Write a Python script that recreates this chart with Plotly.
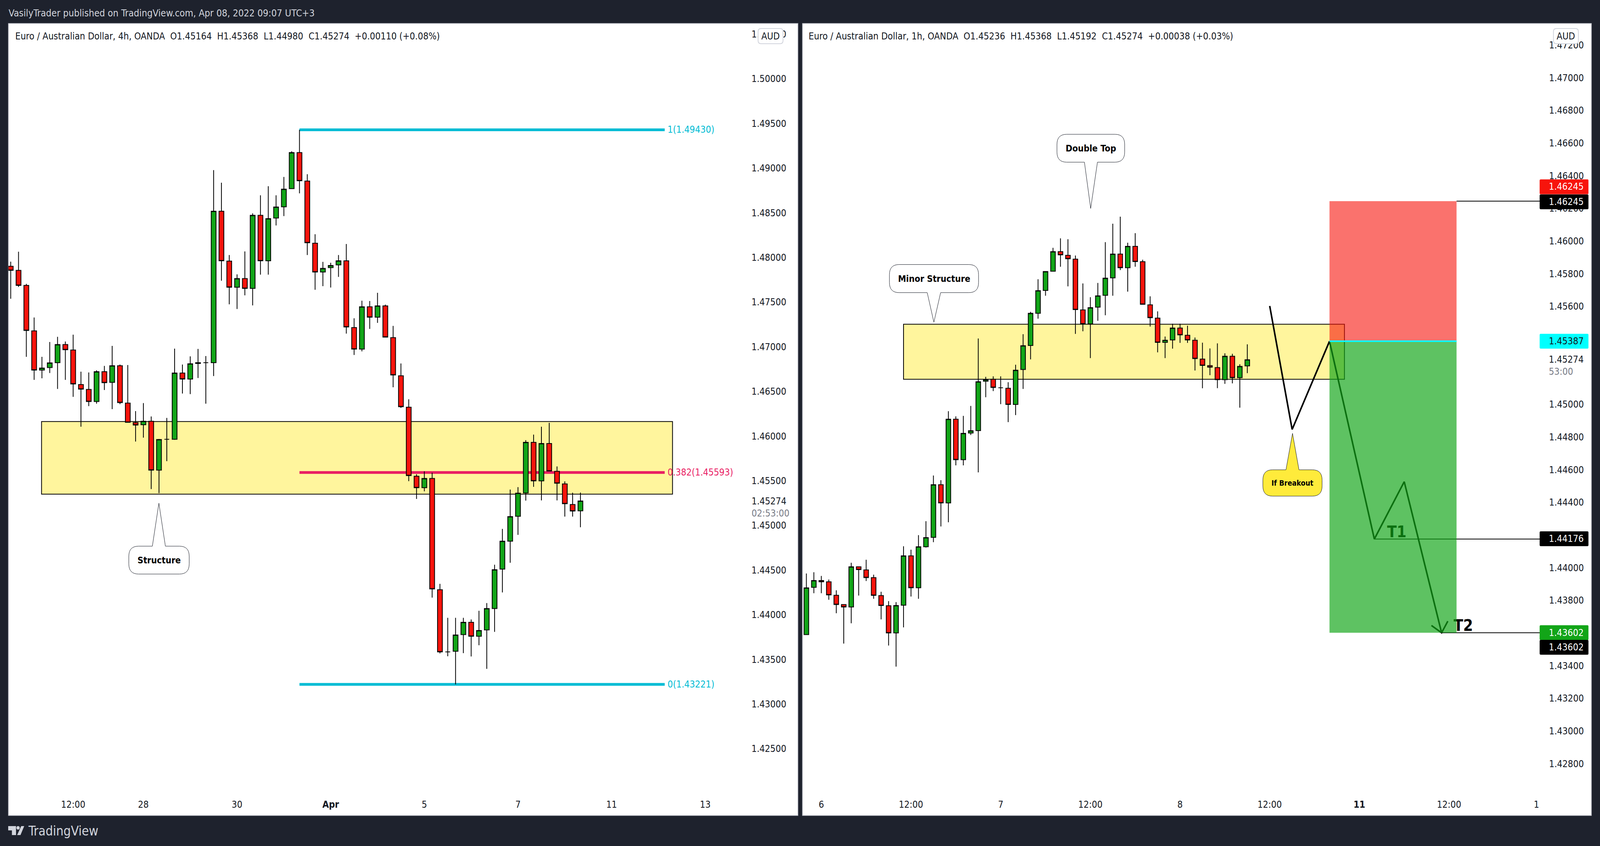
import plotly.graph_objects as go

# ---------- 4h pane ----------
l_open = [1.47902,1.47856,1.47688,1.47179,1.46740,1.46768,1.46823,1.47026,1.46965,1.46578,1.46523,1.46388,1.46722,1.46602,1.46789,1.46370,1.46152,1.46127,1.46167,1.45619,1.45965,1.45965,1.46707,1.46639,1.46823,1.46822,1.46823,1.48519,1.47960,1.47667,1.47765,1.47654,1.48473,1.47963,1.48442,1.48568,1.48771,1.49175,1.48856,1.48160,1.47838,1.47887,1.47917,1.47963,1.47216,1.46974,1.47449,1.47332,1.47458,1.47103,1.46676,1.46324,1.45552,1.45423,1.45527,1.44281,1.43585,1.43591,1.43778,1.43916,1.43760,1.43831,1.44070,1.44511,1.44824,1.45103,1.45364,1.45931,1.45499,1.45918,1.45606,1.45465,1.45235,1.45164]
l_close = [1.47856,1.47688,1.47183,1.46740,1.46762,1.46820,1.47026,1.46968,1.46584,1.46526,1.46388,1.46722,1.46599,1.46789,1.46376,1.46155,1.46124,1.46167,1.45619,1.45962,1.45965,1.46707,1.46639,1.46811,1.46814,1.46822,1.48519,1.47963,1.47667,1.47765,1.47654,1.48473,1.47963,1.48436,1.48565,1.48765,1.49175,1.48859,1.48166,1.47838,1.47878,1.47911,1.47963,1.47222,1.46974,1.47449,1.47332,1.47458,1.47109,1.46685,1.46330,1.45558,1.45423,1.45527,1.44290,1.43585,1.43585,1.43774,1.43916,1.43760,1.43824,1.44070,1.44505,1.44824,1.45099,1.45361,1.45931,1.45499,1.45918,1.45610,1.45473,1.45244,1.45162,1.45274]
l_high = [1.47954,1.48065,1.47706,1.47329,1.46888,1.47054,1.47112,1.47060,1.47136,1.46722,1.46713,1.46737,1.46786,1.47010,1.46802,1.46796,1.46281,1.46370,1.46220,1.45968,1.46204,1.46980,1.46802,1.46894,1.46977,1.46897,1.48979,1.48838,1.48028,1.47811,1.48068,1.48494,1.48697,1.48798,1.48697,1.48902,1.49190,1.49430,1.48933,1.48261,1.47951,1.47942,1.48028,1.48151,1.47320,1.47516,1.47513,1.47605,1.47473,1.47234,1.46814,1.46413,1.45573,1.45606,1.45591,1.44346,1.43966,1.43966,1.43966,1.43947,1.44045,1.44131,1.44560,1.44962,1.45402,1.45429,1.45955,1.46017,1.46106,1.46149,1.45661,1.45494,1.45367,1.45368]
l_low = [1.47538,1.47670,1.46888,1.46630,1.46648,1.46707,1.46529,1.46630,1.46440,1.46106,1.46336,1.46364,1.46517,1.46302,1.46358,1.46152,1.45940,1.45983,1.45407,1.45361,1.45720,1.45959,1.46477,1.46471,1.46651,1.46364,1.46673,1.47740,1.47476,1.47424,1.47577,1.47464,1.47808,1.47808,1.48359,1.48464,1.48771,1.48719,1.48028,1.47639,1.47679,1.47664,1.47783,1.47148,1.46909,1.46949,1.47201,1.47268,1.47109,1.46547,1.46315,1.45496,1.45297,1.45382,1.44192,1.43567,1.43536,1.43221,1.43570,1.43533,1.43659,1.43395,1.43809,1.44250,1.44582,1.44895,1.45278,1.45432,1.45281,1.45610,1.45281,1.45099,1.45099,1.44980]
l_bars = list(range(len(l_open)))
l_yticks = [1.425,1.43,1.435,1.44,1.445,1.45,1.455,1.46,1.465,1.47,1.475,1.48,1.485,1.49,1.495,1.5,1.505]
l_xticks = [8,17,29,41,53,65,77,89]
l_xlabels = ["12:00","28","30","<b>Apr</b>","5","7","11","13"]
l_zone = [3.95,84.8,1.45351,1.46164]
l_fib_span = [37,83.8]
l_fib_levels = [1.49430,1.45593,1.43221]
l_fib_colors = ["#00bcd4","#e91e63","#00bcd4"]
l_fib_names = ["1(1.49430)","0.382(1.45593)","0(1.43221)"]

# ---------- 1h pane ----------
r_open = [1.43591,1.43880,1.43922,1.43914,1.43832,1.43775,1.43760,1.44006,1.43987,1.43940,1.43830,1.43768,1.43601,1.43771,1.44073,1.43878,1.44129,1.44186,1.44509,1.44397,1.44910,1.44662,1.44825,1.44840,1.45142,1.45154,1.45102,1.45099,1.45000,1.45214,1.45361,1.45558,1.45698,1.45816,1.45936,1.45913,1.45890,1.45579,1.45493,1.45596,1.45668,1.45775,1.45921,1.45837,1.45968,1.45874,1.45610,1.45529,1.45380,1.45395,1.45468,1.45424,1.45393,1.45278,1.45238,1.45226,1.45152,1.45295,1.45164,1.45236]
r_close = [1.43877,1.43922,1.43914,1.43834,1.43775,1.43760,1.44006,1.43989,1.43940,1.43831,1.43769,1.43601,1.43769,1.44073,1.43878,1.44129,1.44185,1.44509,1.44397,1.44910,1.44662,1.44823,1.44839,1.45139,1.45152,1.45104,1.45102,1.45000,1.45210,1.45360,1.45558,1.45697,1.45814,1.45936,1.45916,1.45892,1.45581,1.45493,1.45593,1.45665,1.45773,1.45921,1.45837,1.45968,1.45875,1.45613,1.45531,1.45380,1.45393,1.45468,1.45426,1.45395,1.45281,1.45239,1.45228,1.45152,1.45295,1.45164,1.45233,1.45274]
r_high = [1.43965,1.43973,1.43950,1.43928,1.43862,1.43775,1.44031,1.44006,1.44049,1.43958,1.43853,1.43796,1.43790,1.44132,1.44111,1.44200,1.44285,1.44565,1.44536,1.44959,1.44927,1.44930,1.44991,1.45404,1.45169,1.45172,1.45172,1.45136,1.45243,1.45430,1.45567,1.45767,1.45814,1.45959,1.46017,1.46012,1.45912,1.45741,1.45657,1.45744,1.45994,1.46107,1.46150,1.45990,1.46049,1.45886,1.45662,1.45570,1.45416,1.45494,1.45494,1.45482,1.45410,1.45378,1.45343,1.45374,1.45313,1.45310,1.45246,1.45368]
r_low = [1.43591,1.43844,1.43844,1.43804,1.43722,1.43536,1.43660,1.43830,1.43919,1.43810,1.43684,1.43524,1.43395,1.43635,1.43824,1.43810,1.44124,1.44157,1.44253,1.44279,1.44627,1.44627,1.44813,1.44584,1.45044,1.45082,1.45002,1.44892,1.44935,1.45095,1.45276,1.45525,1.45666,1.45816,1.45843,1.45723,1.45432,1.45448,1.45284,1.45512,1.45546,1.45666,1.45823,1.45691,1.45843,1.45613,1.45477,1.45319,1.45284,1.45342,1.45377,1.45377,1.45208,1.45099,1.45179,1.45100,1.45126,1.45129,1.44980,1.45192]
r_bars = list(range(len(r_open)))
r_yticks = [1.428,1.43,1.432,1.434,1.436,1.438,1.44,1.442,1.444,1.446,1.448,1.45,1.452,1.454,1.456,1.458,1.46,1.462,1.464,1.466,1.468,1.47,1.472]
r_xticks = [2,14,26,38,50,62,74,86,97.7]
r_xlabels = ["6","12:00","7","12:00","8","12:00","<b>11</b>","12:00","1"]
r_zone = [13.0,72.0,1.45154,1.45491]
r_box_x = [70,87]
r_stop, r_entry, r_t1, r_t2 = 1.46245,1.45387,1.44176,1.43602
path_x = [62,65,70]
path_y = [1.45603,1.44847,1.45387]
down_x = [70,76,80,85]
down_y = [1.45387,1.44176,1.44527,1.43602]
head_x = [83.64,85,85.83]
head_y = [1.43647,1.43602,1.43673]

W,H = 4295,2167
FONT = "DejaVu Sans Condensed"
BG = "#1e222d"
GREEN,RED = "#12a518","#f7140c"
TXT = "#131722"
FS = 24

def px(x): return x/W
def py(y): return 1-y/H

shapes, notes = [], []

def rect(x0,y0,x1,y1,fill,line=None,lw=0,layer="above",r=0):
    if r:
        d = (f"M{px(x0+r)},{py(y0)} L{px(x1-r)},{py(y0)} Q{px(x1)},{py(y0)} {px(x1)},{py(y0+r)} "
             f"L{px(x1)},{py(y1-r)} Q{px(x1)},{py(y1)} {px(x1-r)},{py(y1)} L{px(x0+r)},{py(y1)} "
             f"Q{px(x0)},{py(y1)} {px(x0)},{py(y1-r)} L{px(x0)},{py(y0+r)} Q{px(x0)},{py(y0)} {px(x0+r)},{py(y0)} Z")
        shapes.append(dict(type="path",path=d,xref="paper",yref="paper",fillcolor=fill,
                           line=dict(color=line or fill,width=lw),layer=layer))
    else:
        shapes.append(dict(type="rect",x0=px(x0),x1=px(x1),y0=py(y0),y1=py(y1),xref="paper",yref="paper",
                           fillcolor=fill,line=dict(color=line or fill,width=lw),layer=layer))

def note(x,y,t,size=FS,color=TXT,anchor="left"):
    notes.append(dict(x=px(x),y=py(y),xref="paper",yref="paper",text=t,showarrow=False,xanchor=anchor,
                      yanchor="middle",font=dict(family=FONT,size=size,color=color),borderpad=0))

def callout(x0,y0,x1,y1,ax,ay,b0,b1,fill,text,size):
    r = 26
    if ay>y1:
        tail = f"L{px(b1)},{py(y1)} L{px(ax)},{py(ay)} L{px(b0)},{py(y1)} "
        top = ""
    else:
        tail = f"L{px(x0+r)},{py(y1)} "
        top = f"L{px(b0)},{py(y0)} L{px(ax)},{py(ay)} L{px(b1)},{py(y0)} "
    d = (f"M{px(x0+r)},{py(y0)} {top}L{px(x1-r)},{py(y0)} Q{px(x1)},{py(y0)} {px(x1)},{py(y0+r)} "
         f"L{px(x1)},{py(y1-r)} Q{px(x1)},{py(y1)} {px(x1-r)},{py(y1)} {tail}L{px(x0+r)},{py(y1)} "
         f"Q{px(x0)},{py(y1)} {px(x0)},{py(y1-r)} L{px(x0)},{py(y0+r)} Q{px(x0)},{py(y0)} {px(x0+r)},{py(y0)} Z")
    shapes.append(dict(type="path",path=d,xref="paper",yref="paper",fillcolor=fill,
                       line=dict(color="#131722",width=1),layer="above"))
    note((x0+x1)/2,(y0+y1)/2,text,size=size,color="#000000",anchor="center")

rect(22.5,60,2142,2089,"#ffffff","#b2b5be",1.5,layer="below")
rect(2154,60,4272,2089,"#ffffff","#b2b5be",1.5,layer="below")

ZONE = "#fff59d"
shapes.append(dict(type="rect",xref="x",yref="y",x0=l_zone[0],x1=l_zone[1],y0=l_zone[2],y1=l_zone[3],
                   fillcolor=ZONE,line=dict(color="#000000",width=2),layer="below"))
for lv,c in zip(l_fib_levels,l_fib_colors):
    shapes.append(dict(type="line",xref="x",yref="y",x0=l_fib_span[0],x1=l_fib_span[1],y0=lv,y1=lv,
                       line=dict(color=c,width=7),layer="below"))
shapes.append(dict(type="rect",xref="x2",yref="y2",x0=r_zone[0],x1=r_zone[1],y0=r_zone[2],y1=r_zone[3],
                   fillcolor=ZONE,line=dict(color="#000000",width=2),layer="below"))
for lv,x0 in ((r_stop,r_box_x[1]),(r_t1,down_x[1]),(r_t2,down_x[3])):
    shapes.append(dict(type="line",xref="x2",yref="y2",x0=x0,x1=98.17,y0=lv,y1=lv,
                       line=dict(color="#000000",width=2),layer="below"))
shapes.append(dict(type="rect",xref="x2",yref="y2",x0=r_box_x[0],x1=r_box_x[1],y0=r_entry,y1=r_stop,
                   fillcolor="rgba(247,20,12,0.6)",line=dict(width=0),layer="above"))
shapes.append(dict(type="rect",xref="x2",yref="y2",x0=r_box_x[0],x1=r_box_x[1],y0=r_t2,y1=r_entry,
                   fillcolor="rgba(18,165,24,0.68)",line=dict(width=0),layer="above"))
shapes.append(dict(type="line",xref="x2",yref="y2",x0=r_box_x[0],x1=r_box_x[1],y0=r_entry,y1=r_entry,
                   line=dict(color="#00ffff",width=4),layer="above"))

callout(345.8,1399,507.9,1470.4,426.5,1288.8,409,444,"#ffffff","<b>Structure</b>",23)
callout(2837.3,344,3019,415.4,2927.8,534,2911,2946,"#ffffff","<b>Double Top</b>",23)
callout(2387.6,677.6,2626.8,749.6,2506.9,825.5,2489,2525,"#ffffff","<b>Minor Structure</b>",23)
callout(3390,1203.4,3549,1270.8,3469.6,1110,3452,3487,"#ffeb3b","<b>If Breakout</b>",19)

for yc,fill,t,col in ((478.4,RED,"1.46245","#ffffff"),(517,"#000000","1.46245","#ffffff"),
                      (874,"#00ffff","1.45387","#131722"),(1380,"#000000","1.44176","#ffffff"),
                      (1620.6,GREEN,"1.43602","#ffffff"),(1658,"#000000","1.43602","#ffffff")):
    rect(4133,yc-19,4264,yc+19,fill,r=3)
    note(4157,yc,t,color=col)
rect(4133,900,4264,968,"#ffffff")
note(4157,921,"1.45274")
note(4157,952,"53:00",color="#787b86")
note(2016,1284,"1.45274")
note(2016,1314.5,"02:53:00",color="#787b86")
rect(4170,73,4237,112,"#ffffff","#d1d4dc",2,r=8)
note(4203.5,92.5,"AUD",anchor="center")
rect(2035,73,2102,112,"#ffffff","#d1d4dc",2,r=8)
note(2068.5,92.5,"AUD",anchor="center")

for lv,t,c in zip(l_fib_levels,l_fib_names,l_fib_colors):
    notes.append(dict(x=84.1,y=lv,xref="x",yref="y",text=t,showarrow=False,xanchor="left",yanchor="middle",
                      font=dict(family=FONT,size=FS,color=c),borderpad=0))

note(22,33.7,"VasilyTrader published on TradingView.com, Apr 08, 2022 09:07 UTC+3",size=24.5,color="#d1d4dc")
S = "\u00a0\u00a0"
note(40,92.6,f"Euro / Australian Dollar, 4h, OANDA{S}O1.45164{S}H1.45368{S}L1.44980{S}C1.45274{S}+0.00110 (+0.08%)")
note(2170,92.6,f"Euro / Australian Dollar, 1h, OANDA{S}O1.45236{S}H1.45368{S}L1.45192{S}C1.45274{S}+0.00038 (+0.03%)")
note(74,2128,"TradingView",size=33,color="#d1d4dc")
def poly(pts):
    d = "M"+" L".join(f"{px(a)},{py(b)}" for a,b in pts)+" Z"
    shapes.append(dict(type="path",path=d,xref="paper",yref="paper",fillcolor="#d1d4dc",line=dict(width=0),layer="above"))
poly([(22,2116),(43,2116),(43,2139),(32,2139),(32,2127),(22,2127)])
poly([(57,2116),(65,2116),(55,2139),(46,2139)])
shapes.append(dict(type="circle",x0=px(44),x1=px(53),y0=py(2116),y1=py(2125),xref="paper",yref="paper",
                   fillcolor="#d1d4dc",line=dict(width=0),layer="above"))

def candles(x,o,h,l,c,xa,ya):
    return go.Candlestick(x=x,open=o,high=h,low=l,close=c,xaxis=xa,yaxis=ya,whiskerwidth=0,showlegend=False,
        increasing=dict(line=dict(color="#000000",width=2),fillcolor=GREEN),
        decreasing=dict(line=dict(color="#000000",width=2),fillcolor=RED))

fig = go.Figure()
fig.add_trace(candles(l_bars,l_open,l_high,l_low,l_close,"x","y"))
fig.add_trace(candles(r_bars,r_open,r_high,r_low,r_close,"x2","y2"))
for xs,ys in ((path_x,path_y),(down_x,down_y),(head_x,head_y)):
    fig.add_trace(go.Scatter(x=xs,y=ys,xaxis="x2",yaxis="y2",mode="lines",showlegend=False,
                             line=dict(color="#000000",width=4,simplify=False)))
fig.add_trace(go.Scatter(x=[79,87.9],y=[1.44212,1.43638],xaxis="x2",yaxis="y2",mode="text",text=["<b>T1</b>","<b>T2</b>"],
                         textposition="middle center",showlegend=False,
                         textfont=dict(family=FONT,size=40,color="#000000")))

TOP,BOT = 60,2030
def xax(x0,x1,rng,tv,tt,anchor):
    return dict(domain=[px(x0),px(x1)],range=rng,tickmode="array",tickvals=tv,ticktext=tt,anchor=anchor,
                showgrid=False,zeroline=False,showline=False,ticks="",rangeslider=dict(visible=False),
                tickfont=dict(family=FONT,size=FS,color=TXT),ticklabelstandoff=14)
def yax(rng,tv,anchor):
    return dict(domain=[py(BOT),py(TOP)],range=rng,tickmode="array",tickvals=tv,tickformat=".5f",anchor=anchor,side="right",
                showgrid=False,zeroline=False,showline=False,ticks="",
                tickfont=dict(family=FONT,size=FS,color=TXT),ticklabelstandoff=22)

fig.update_layout(width=W,height=H,margin=dict(l=0,r=0,t=0,b=0),paper_bgcolor=BG,plot_bgcolor="rgba(0,0,0,0)",
    xaxis=xax(22.5,1993,[-0.3,93.76],l_xticks,l_xlabels,"y"),
    yaxis=yax([1.42010,1.50621],l_yticks,"x"),
    xaxis2=xax(2154,4134,[-0.53,98.17],r_xticks,r_xlabels,"y2"),
    yaxis2=yax([1.42624,1.47333],r_yticks,"x2"),
    shapes=shapes,annotations=notes,boxgap=0.38,boxgroupgap=0,hovermode=False,showlegend=False)

fit = ("document.body.style.margin='0';document.documentElement.style.overflow='hidden';"
       "Plotly.relayout(document.getElementById('{plot_id}'),{width:window.innerWidth,height:window.innerHeight});")
fig.write_html("out.html",post_script=fit,config=dict(displayModeBar=False))
